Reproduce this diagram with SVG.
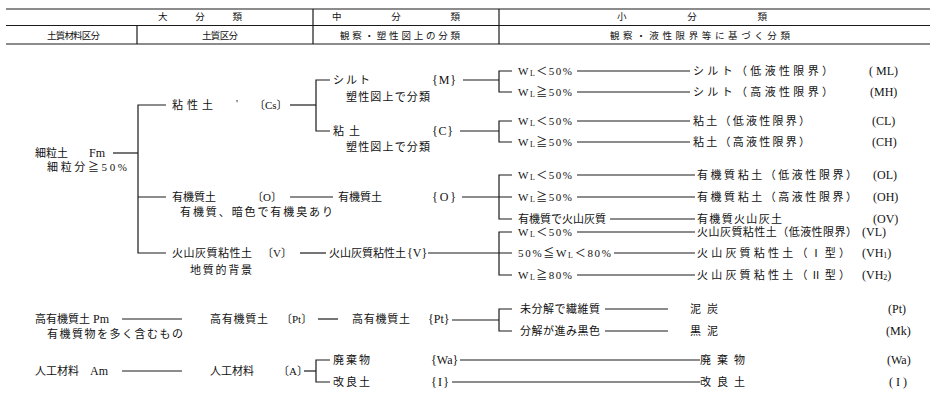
<svg xmlns="http://www.w3.org/2000/svg" width="934" height="403" viewBox="0 0 934 403">
<style>
.t{font-family:"Liberation Serif","Noto Sans CJK JP",serif;font-size:11px;fill:#111111}
.l{font-family:"Liberation Serif","Noto Sans CJK JP",serif;font-size:12px;fill:#111111}
.h{font-family:"Noto Sans CJK JP","Liberation Sans",sans-serif;font-size:9.5px;fill:#111111}
.c{stroke:#1a1a1a;stroke-width:1.2;fill:none}
.s{font-size:8px}
</style>
<rect width="934" height="403" fill="#ffffff"/>
<g id="header">
<line class="c" x1="6" y1="9" x2="930" y2="9" stroke-width="1.6"/>
<line class="c" x1="6" y1="25.5" x2="930" y2="25.5"/>
<line class="c" x1="6" y1="44" x2="930" y2="44"/>
<line class="c" x1="137" y1="25.5" x2="137" y2="44"/>
<line class="c" x1="313" y1="9" x2="313" y2="44"/>
<line class="c" x1="499" y1="9" x2="499" y2="44"/>
<text class="h" x="158" y="20" textLength="84" lengthAdjust="spacing">大　分　類</text>
<text class="h" x="332" y="20" textLength="128" lengthAdjust="spacing">中　分　類</text>
<text class="h" x="617" y="20" textLength="150" lengthAdjust="spacing">小　分　類</text>
<text class="h" x="47" y="38.5" textLength="53" lengthAdjust="spacing">土質材料区分</text>
<text class="h" x="202" y="38.5" textLength="36" lengthAdjust="spacing">土質区分</text>
<text class="h" x="340" y="38.5" textLength="120" lengthAdjust="spacing">観察・塑性図上の分類</text>
<text class="h" x="610" y="38.5" textLength="180" lengthAdjust="spacing">観察・液性限界等に基づく分類</text>
</g>
<g id="connectors">
<line class="c" x1="113" y1="153" x2="138" y2="153"/>
<path class="c" d="M166,105 H138 V253 H166 M138,197 H166"/>
<line class="c" x1="290" y1="105" x2="316" y2="105"/>
<path class="c" d="M330,80 H316 V131 H330"/>
<line class="c" x1="290" y1="197" x2="333" y2="197"/>
<line class="c" x1="300" y1="253" x2="326" y2="253"/>
<line class="c" x1="463" y1="80" x2="499" y2="80"/>
<path class="c" d="M512,71 H499 V92 H512"/>
<line class="c" x1="460" y1="131" x2="499" y2="131"/>
<path class="c" d="M512,121 H499 V142 H512"/>
<line class="c" x1="462" y1="197" x2="512" y2="197"/>
<path class="c" d="M512,175 H499 V219 H512"/>
<line class="c" x1="428" y1="253" x2="512" y2="253"/>
<path class="c" d="M512,232 H499 V275 H512"/>
<line class="c" x1="122" y1="319" x2="182" y2="319"/>
<line class="c" x1="318" y1="319" x2="338" y2="319"/>
<line class="c" x1="452" y1="320" x2="499" y2="320"/>
<path class="c" d="M512,309 H499 V331 H512"/>
<line class="c" x1="122" y1="371" x2="182" y2="371"/>
<line class="c" x1="304" y1="371" x2="316" y2="371"/>
<path class="c" d="M330,360 H316 V382 H330"/>
<line class="c" x1="577" y1="71" x2="690" y2="71"/>
<line class="c" x1="577" y1="92" x2="690" y2="92"/>
<line class="c" x1="577" y1="121" x2="690" y2="121"/>
<line class="c" x1="577" y1="142" x2="690" y2="142"/>
<line class="c" x1="577" y1="175" x2="695" y2="175"/>
<line class="c" x1="577" y1="197" x2="695" y2="197"/>
<line class="c" x1="610" y1="219" x2="695" y2="219"/>
<line class="c" x1="577" y1="232" x2="695" y2="232"/>
<line class="c" x1="614" y1="253" x2="695" y2="253"/>
<line class="c" x1="577" y1="275" x2="695" y2="275"/>
<line class="c" x1="605" y1="309" x2="668" y2="309"/>
<line class="c" x1="605" y1="331" x2="668" y2="331"/>
<line class="c" x1="460" y1="360" x2="700" y2="360"/>
<line class="c" x1="452" y1="382" x2="700" y2="382"/>
</g>
<g id="n-fm">
<text class="t" x="35" y="157">細粒土</text>
<text class="l" x="89" y="157">Fm</text>
<text class="t" x="47" y="171" textLength="80" lengthAdjust="spacing">細粒分≧50%</text>
</g>
<g id="n-cs">
<text class="t" x="172" y="109" textLength="41" lengthAdjust="spacing">粘性土</text>
<text class="t" x="236" y="107">'</text>
<text class="t" x="254" y="109">〔Cs〕</text>
</g>
<g id="n-m">
<text class="t" x="333" y="84" textLength="37" lengthAdjust="spacing">シルト</text>
<text class="l" x="432" y="84" textLength="24" lengthAdjust="spacing">{M}</text>
<text class="t" x="346" y="101" textLength="84" lengthAdjust="spacing">塑性図上で分類</text>
</g>
<g id="n-c">
<text class="t" x="333" y="135" textLength="27" lengthAdjust="spacing">粘 土</text>
<text class="l" x="432" y="135" textLength="21" lengthAdjust="spacing">{C}</text>
<text class="t" x="346" y="151" textLength="84" lengthAdjust="spacing">塑性図上で分類</text>
</g>
<g id="n-o1">
<text class="t" x="172" y="201">有機質土</text>
<text class="t" x="252" y="201">〔O〕</text>
<text class="t" x="180" y="216" textLength="153" lengthAdjust="spacing">有機質、暗色で有機臭あり</text>
</g>
<g id="n-o2">
<text class="t" x="338" y="201">有機質土</text>
<text class="l" x="432" y="201" textLength="24" lengthAdjust="spacing">{O}</text>
</g>
<g id="n-v1">
<text class="t" x="172" y="257" textLength="80" lengthAdjust="spacing">火山灰質粘性土</text>
<text class="t" x="262" y="257">〔V〕</text>
<text class="t" x="190" y="274" textLength="62" lengthAdjust="spacing">地質的背景</text>
</g>
<g id="n-v2">
<text class="t" x="329" y="257">火山灰質粘性土</text>
<text class="l" x="407" y="257">{V}</text>
</g>
<g id="n-pm">
<text class="t" x="35" y="323">高有機質土</text>
<text class="l" x="93" y="323">Pm</text>
<text class="t" x="47" y="338" textLength="136" lengthAdjust="spacing">有機質物を多く含むもの</text>
</g>
<g id="n-pt1">
<text class="t" x="210" y="323" textLength="58" lengthAdjust="spacing">高有機質土</text>
<text class="t" x="281" y="323">〔Pt〕</text>
</g>
<g id="n-pt2">
<text class="t" x="352" y="323" textLength="58" lengthAdjust="spacing">高有機質土</text>
<text class="l" x="428" y="323">{Pt}</text>
</g>
<g id="n-am">
<text class="t" x="35" y="375">人工材料</text>
<text class="l" x="90" y="375">Am</text>
</g>
<g id="n-a">
<text class="t" x="210" y="375">人工材料</text>
<text class="t" x="278" y="375">〔A〕</text>
</g>
<g id="n-wa">
<text class="t" x="333" y="364" textLength="37" lengthAdjust="spacing">廃棄物</text>
<text class="l" x="431" y="364">{Wa}</text>
</g>
<g id="n-i">
<text class="t" x="333" y="386" textLength="37" lengthAdjust="spacing">改良土</text>
<text class="l" x="431" y="386" textLength="18" lengthAdjust="spacing">{I}</text>
</g>
<g id="conditions">
<text class="t" x="518" y="75" textLength="54" lengthAdjust="spacing">W<tspan class="s" dy="1">L</tspan><tspan dy="-1">＜50%</tspan></text>
<text class="t" x="518" y="96" textLength="54" lengthAdjust="spacing">W<tspan class="s" dy="1">L</tspan><tspan dy="-1">≧50%</tspan></text>
<text class="t" x="518" y="125" textLength="54" lengthAdjust="spacing">W<tspan class="s" dy="1">L</tspan><tspan dy="-1">＜50%</tspan></text>
<text class="t" x="518" y="146" textLength="54" lengthAdjust="spacing">W<tspan class="s" dy="1">L</tspan><tspan dy="-1">≧50%</tspan></text>
<text class="t" x="518" y="179" textLength="54" lengthAdjust="spacing">W<tspan class="s" dy="1">L</tspan><tspan dy="-1">＜50%</tspan></text>
<text class="t" x="518" y="201" textLength="54" lengthAdjust="spacing">W<tspan class="s" dy="1">L</tspan><tspan dy="-1">≧50%</tspan></text>
<text class="t" x="518" y="223">有機質で火山灰質</text>
<text class="t" x="518" y="236" textLength="54" lengthAdjust="spacing">W<tspan class="s" dy="1">L</tspan><tspan dy="-1">＜50%</tspan></text>
<text class="t" x="518" y="257" textLength="93" lengthAdjust="spacing">50%≦W<tspan class="s" dy="1">L</tspan><tspan dy="-1">＜80%</tspan></text>
<text class="t" x="518" y="279" textLength="54" lengthAdjust="spacing">W<tspan class="s" dy="1">L</tspan><tspan dy="-1">≧80%</tspan></text>
<text class="t" x="520" y="313" textLength="80" lengthAdjust="spacing">未分解で繊維質</text>
<text class="t" x="520" y="335" textLength="80" lengthAdjust="spacing">分解が進み黒色</text>
</g>
<g id="results">
<text class="t" x="693" y="75" textLength="140" lengthAdjust="spacing">シルト（低液性限界）</text>
<text class="t" x="693" y="96" textLength="140" lengthAdjust="spacing">シルト（高液性限界）</text>
<text class="t" x="693" y="125" textLength="117" lengthAdjust="spacing">粘土（低液性限界）</text>
<text class="t" x="693" y="146" textLength="117" lengthAdjust="spacing">粘土（高液性限界）</text>
<text class="t" x="697" y="179" textLength="160" lengthAdjust="spacing">有機質粘土（低液性限界）</text>
<text class="t" x="697" y="201" textLength="160" lengthAdjust="spacing">有機質粘土（高液性限界）</text>
<text class="t" x="697" y="223" textLength="85" lengthAdjust="spacing">有機質火山灰土</text>
<text class="t" x="697" y="236" textLength="160" lengthAdjust="spacing">火山灰質粘性土（低液性限界）</text>
<text class="t" x="697" y="257" textLength="153" lengthAdjust="spacing">火山灰質粘性土（Ⅰ型）</text>
<text class="t" x="697" y="279" textLength="153" lengthAdjust="spacing">火山灰質粘性土（Ⅱ型）</text>
<text class="t" x="690" y="313" textLength="28" lengthAdjust="spacing">泥炭</text>
<text class="t" x="690" y="335" textLength="28" lengthAdjust="spacing">黒泥</text>
<text class="t" x="700" y="364" textLength="45" lengthAdjust="spacing">廃棄物</text>
<text class="t" x="700" y="386" textLength="45" lengthAdjust="spacing">改良土</text>
</g>
<g id="codes">
<text class="l" x="869" y="75">( ML)</text>
<text class="l" x="870" y="96">(MH)</text>
<text class="l" x="872" y="125">(CL)</text>
<text class="l" x="872" y="146">(CH)</text>
<text class="l" x="873" y="179">(OL)</text>
<text class="l" x="873" y="201">(OH)</text>
<text class="l" x="873" y="223">(OV)</text>
<text class="l" x="862" y="236">(VL)</text>
<text class="l" x="862" y="257">(VH<tspan class="s" dy="1">1</tspan><tspan dy="-1">)</tspan></text>
<text class="l" x="862" y="279">(VH<tspan class="s" dy="1">2</tspan><tspan dy="-1">)</tspan></text>
<text class="l" x="888" y="313">(Pt)</text>
<text class="l" x="886" y="335">(Mk)</text>
<text class="l" x="887" y="364">(Wa)</text>
<text class="l" x="889" y="386">( I )</text>
</g>
</svg>
